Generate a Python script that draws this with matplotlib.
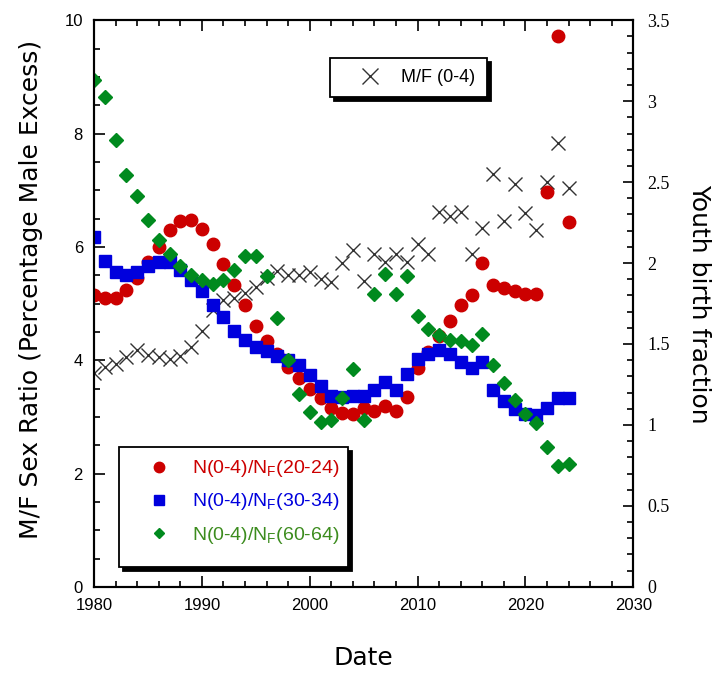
import numpy as np
import matplotlib
matplotlib.use('Agg')
import matplotlib.pyplot as plt
from matplotlib.lines import Line2D
from matplotlib.patches import Rectangle
from matplotlib.ticker import MultipleLocator, FormatStrFormatter

plt.rcParams['mathtext.default'] = 'regular'

years = np.arange(1980, 2025)

# M/F sex ratio of the 0-4 group, percentage male excess (left axis)
mf_04 = [3.77, 3.88, 3.93, 4.06, 4.18, 4.10, 4.05, 4.02, 4.07, 4.24,
         4.52, 4.88, 5.06, 5.10, 5.18, 5.30, 5.45, 5.57, 5.50, 5.50,
         5.55, 5.43, 5.38, 5.72, 5.95, 5.39, 5.88, 5.73, 5.87, 5.73,
         6.05, 5.88, 6.61, 6.55, 6.61, 5.88, 6.33, 7.28, 6.45, 7.11,
         6.59, 6.30, 7.15, 7.83, 7.03]

# youth birth fraction N(0-4)/N_F(age group) (right axis)
nf_20_24 = [1.805, 1.786, 1.786, 1.836, 1.907, 2.006, 2.099, 2.206, 2.257, 2.263,
            2.212, 2.120, 1.992, 1.862, 1.739, 1.611, 1.519, 1.440, 1.358, 1.293,
            1.225, 1.167, 1.107, 1.074, 1.066, 1.107, 1.085, 1.115, 1.085, 1.170,
            1.350, 1.450, 1.550, 1.640, 1.740, 1.800, 2.000, 1.862, 1.848, 1.828,
            1.807, 1.807, 2.440, 3.400, 2.253]
nf_30_34 = [2.160, 2.012, 1.944, 1.924, 1.944, 1.980, 2.006, 2.006, 1.955, 1.897,
            1.825, 1.739, 1.665, 1.582, 1.525, 1.483, 1.456, 1.424, 1.404, 1.369,
            1.307, 1.239, 1.177, 1.170, 1.177, 1.177, 1.214, 1.266, 1.214, 1.317,
            1.410, 1.436, 1.460, 1.440, 1.390, 1.350, 1.390, 1.214, 1.145, 1.100,
            1.070, 1.060, 1.105, 1.167, 1.167]
nf_60_64 = [3.128, 3.025, 2.762, 2.546, 2.412, 2.264, 2.140, 2.058, 1.982, 1.924,
            1.897, 1.873, 1.897, 1.959, 2.041, 2.041, 1.918, 1.663, 1.400, 1.190,
            1.080, 1.019, 1.029, 1.169, 1.348, 1.029, 1.807, 1.934, 1.807, 1.918,
            1.671, 1.590, 1.554, 1.523, 1.517, 1.496, 1.564, 1.368, 1.259, 1.157,
            1.066, 1.009, 0.864, 0.747, 0.757]

red = '#cc0000'
blue = '#0000dd'
green = '#008a1e'

W, H = 725, 673
fig = plt.figure(figsize=(W / 100, H / 100), dpi=100)
ax = fig.add_axes([0.1297, 0.128, 0.7438, 0.842])
ax2 = ax.twinx()

ax.plot(years, mf_04, ls='none', marker='x', ms=10, mew=1.0, color='#333333')
ax2.plot(years, nf_20_24, ls='none', marker='o', ms=9, color=red)
ax2.plot(years, nf_30_34, ls='none', marker='s', ms=9, color=blue)
ax2.plot(years, nf_60_64, ls='none', marker='D', ms=7, color=green)

ax.set_xlim(1980, 2030)
ax.set_ylim(0, 10)
ax2.set_ylim(0, 3.5)
ax.xaxis.set_major_locator(MultipleLocator(10))
ax.xaxis.set_minor_locator(MultipleLocator(2))
ax.yaxis.set_major_locator(MultipleLocator(2))
ax.yaxis.set_minor_locator(MultipleLocator(0.5))
ax2.yaxis.set_major_locator(MultipleLocator(0.5))
ax2.yaxis.set_minor_locator(MultipleLocator(0.1))
ax2.yaxis.set_major_formatter(FormatStrFormatter('%g'))

for a in (ax, ax2):
    for s in a.spines.values():
        s.set_linewidth(1.5)
ax.tick_params(which='both', direction='in', top=True, right=False, width=1.2)
ax.tick_params(which='major', length=8, labelsize=12, pad=8)
ax.tick_params(which='minor', length=4.5)
ax2.tick_params(which='both', direction='in', width=1.2)
ax2.tick_params(which='major', length=7, labelsize=13, pad=10)
ax2.tick_params(which='minor', length=4)
for lab in ax.get_xticklabels() + ax.get_yticklabels():
    lab.set_family('Liberation Sans')
for lab in ax2.get_yticklabels():
    lab.set_family('Liberation Serif')

ax.set_xlabel('Date', fontsize=18, labelpad=24)
ax.set_ylabel('M/F Sex Ratio (Percentage Male Excess)', fontsize=18)
ax.yaxis.set_label_coords(-0.095, 0.525)
ax2.set_ylabel('Youth birth fraction', fontsize=18, rotation=270, labelpad=30)


def boxed(x0, y0, x1, y1, off=4):
    # white box with a solid black drop shadow, given in pixels from top-left
    kw = dict(transform=fig.transFigure, zorder=6)
    fig.patches.append(Rectangle(((x0 + off) / W, 1 - (y1 + off) / H), (x1 - x0) / W,
                                 (y1 - y0) / H, facecolor='black', edgecolor='black',
                                 lw=1.3, **kw))
    fig.patches.append(Rectangle((x0 / W, 1 - y1 / H), (x1 - x0) / W, (y1 - y0) / H,
                                 facecolor='white', edgecolor='black', lw=1.3, **kw))


boxed(330, 58, 487, 97)
boxed(119, 447, 348, 567)

h1 = [Line2D([], [], ls='none', marker='x', ms=12, mew=1.0, color='#333333')]
leg1 = fig.legend(h1, ['M/F (0-4)'], loc='center left', bbox_to_anchor=(330 / W, 1 - 77.5 / H),
                  borderaxespad=0, frameon=False,
                  prop={'family': 'Liberation Sans', 'size': 13},
                  borderpad=0.55, handlelength=3.3, handletextpad=0.1)
leg1.set_zorder(7)

h2 = [Line2D([], [], ls='none', marker='o', ms=7.5, color=red),
      Line2D([], [], ls='none', marker='s', ms=7, color=blue),
      Line2D([], [], ls='none', marker='D', ms=5.5, color=green)]
labels2 = ['N(0-4)/N$_F$(20-24)', 'N(0-4)/N$_F$(30-34)', 'N(0-4)/N$_F$(60-64)']
leg2 = fig.legend(h2, labels2, loc='center left', bbox_to_anchor=(119 / W, 1 - 502 / H),
                  borderaxespad=0, frameon=False,
                  prop={'family': 'Liberation Sans', 'size': 14},
                  borderpad=0.6, handlelength=2.9, handletextpad=0.26, labelspacing=0.62)
leg2.set_zorder(7)
for t, c in zip(leg2.get_texts(), [red, blue, '#3c8c1e']):
    t.set_color(c)

fig.savefig('out.png', dpi=100)
